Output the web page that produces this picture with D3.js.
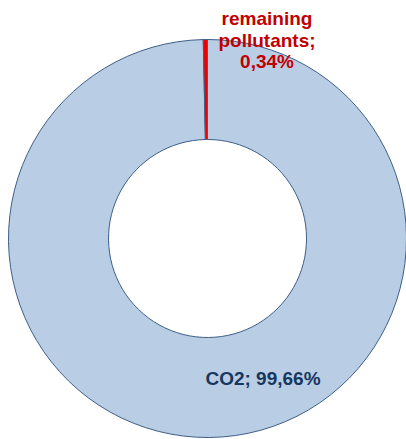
<!DOCTYPE html>
<html>
<head>
<meta charset="utf-8">
<script src="https://cdn.jsdelivr.net/npm/d3@7/dist/d3.min.js"></script>
<style>
  html, body { margin: 0; padding: 0; background: #fff; }
  svg { display: block; }
</style>
</head>
<body>
<svg id="chart" width="406" height="439"></svg>
<script>
// Emission shares (percent)
const categories = ["CO2", "remaining pollutants"];
const shares = [99.66, 0.34];
const shareLabels = ["99,66%", "0,34%"];

const width = 406, height = 439;
const cx = 207.5, cy = 238.5;
const outerR = 199, innerR = 99;

const colors = ["#b9cde5", "#ee0000"];
const labelColors = ["#17375e", "#c00000"];

const svg = d3.select("#chart");
const g = svg.append("g").attr("transform", `translate(${cx},${cy})`);

const data = categories.map((c, i) => ({ name: c, value: shares[i], label: shareLabels[i], i }));

const pie = d3.pie().sort(null).value(d => d.value);
const arc = d3.arc().innerRadius(innerR).outerRadius(outerR);
const arcs = pie(data);

g.selectAll("path.slice")
  .data(arcs)
  .join("path")
  .attr("class", "slice")
  .attr("d", arc)
  .attr("fill", d => colors[d.data.i])
  .attr("stroke", "#3e5f88")
  .attr("stroke-width", 1);

// CO2 label inside the ring, lower right
const font = "'Liberation Sans', Arial, sans-serif";
svg.append("text")
  .attr("x", 263)
  .attr("y", 385)
  .attr("text-anchor", "middle")
  .attr("font-family", font)
  .attr("font-weight", "bold")
  .attr("font-size", 19)
  .attr("fill", labelColors[0])
  .text(`${data[0].name}; ${data[0].label}`);

// Small slice label above the ring
const small = svg.append("text")
  .attr("text-anchor", "middle")
  .attr("font-family", font)
  .attr("font-weight", "bold")
  .attr("font-size", 19)
  .attr("fill", labelColors[1]);
const lines = ["remaining", "pollutants;", data[1].label];
lines.forEach((t, k) => {
  small.append("tspan")
    .attr("x", 267)
    .attr("y", 25 + k * 21.5)
    .text(t);
});
</script>
</body>
</html>
